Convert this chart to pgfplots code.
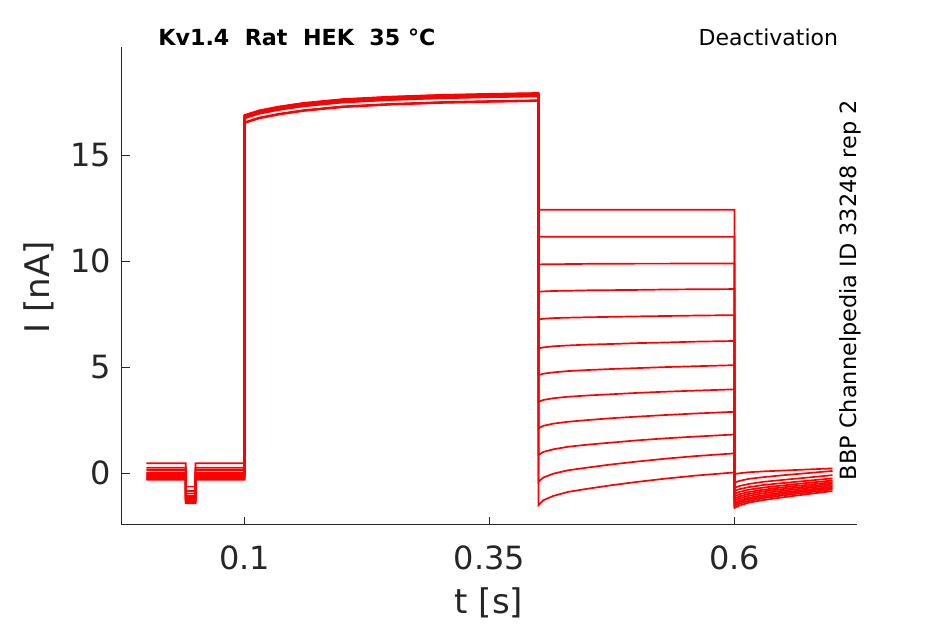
\documentclass[border=0pt]{standalone}
\usepackage{pgfplots}
\usepackage{pgfplotstable}
\pgfplotsset{compat=1.18}
\usepackage{fontspec}
\setmainfont{DejaVu Sans}
\definecolor{axgray}{HTML}{262626}
\definecolor{trace}{HTML}{FF0000}
\pgfplotstableread{
t y1 y2 y3 y4 y5 y6 y7 y8 y9 y10 y11 y12
0 0.46 0.25 0.14 0.02 -0.03 -0.08 -0.12 -0.16 -0.20 -0.24 -0.28 -0.32
0.04 0.46 0.25 0.14 0.02 -0.03 -0.08 -0.12 -0.16 -0.20 -0.24 -0.28 -0.32
0.04 -0.64 -0.85 -0.96 -1.08 -1.13 -1.18 -1.22 -1.26 -1.30 -1.34 -1.38 -1.42
0.05 -0.64 -0.85 -0.96 -1.08 -1.13 -1.18 -1.22 -1.26 -1.30 -1.34 -1.38 -1.42
0.05 0.46 0.25 0.14 0.02 -0.03 -0.08 -0.12 -0.16 -0.20 -0.24 -0.28 -0.32
0.1 0.46 0.25 0.14 0.02 -0.03 -0.08 -0.12 -0.16 -0.20 -0.24 -0.28 -0.32
0.1 16.89 16.87 16.85 16.83 16.81 16.79 16.77 16.75 16.73 16.55 16.53 16.51
0.115 17.11 17.09 17.07 17.05 17.03 17.01 16.99 16.97 16.95 16.77 16.75 16.73
0.135 17.29 17.27 17.25 17.23 17.21 17.19 17.17 17.15 17.13 16.95 16.93 16.91
0.16 17.46 17.44 17.42 17.40 17.38 17.36 17.34 17.32 17.30 17.12 17.10 17.08
0.2 17.64 17.62 17.60 17.58 17.56 17.54 17.52 17.50 17.48 17.30 17.28 17.26
0.25 17.76 17.74 17.72 17.70 17.68 17.66 17.64 17.62 17.60 17.42 17.40 17.38
0.3 17.84 17.82 17.80 17.78 17.76 17.74 17.72 17.70 17.68 17.50 17.48 17.46
0.35 17.89 17.87 17.85 17.83 17.81 17.79 17.77 17.75 17.73 17.55 17.53 17.51
0.4 17.93 17.91 17.89 17.87 17.85 17.83 17.81 17.79 17.77 17.59 17.57 17.55
0.4 12.42 11.15 9.84 8.55 7.25 5.88 4.62 3.36 2.11 0.85 -0.41 -1.51
0.405 12.42 11.15 9.85 8.57 7.28 5.93 4.69 3.45 2.23 1.00 -0.21 -1.28
0.415 12.42 11.15 9.85 8.59 7.31 5.98 4.75 3.53 2.33 1.12 -0.03 -1.08
0.43 12.42 11.15 9.86 8.60 7.33 6.02 4.81 3.60 2.42 1.24 0.13 -0.89
0.45 12.42 11.15 9.87 8.62 7.35 6.06 4.86 3.66 2.50 1.34 0.26 -0.74
0.475 12.42 11.15 9.87 8.63 7.37 6.09 4.91 3.72 2.59 1.44 0.41 -0.57
0.5 12.42 11.15 9.88 8.64 7.39 6.13 4.95 3.78 2.66 1.54 0.54 -0.42
0.53 12.42 11.15 9.88 8.66 7.41 6.16 5.00 3.84 2.74 1.64 0.68 -0.26
0.56 12.42 11.15 9.89 8.67 7.43 6.20 5.04 3.89 2.81 1.72 0.80 -0.12
0.6 12.42 11.15 9.89 8.68 7.45 6.23 5.09 3.95 2.89 1.82 0.93 0.03
0.6 -0.05 -0.45 -0.70 -0.85 -0.98 -1.10 -1.20 -1.30 -1.40 -1.48 -1.56 -1.65
0.605 -0.01 -0.37 -0.61 -0.76 -0.89 -1.00 -1.10 -1.19 -1.29 -1.36 -1.44 -1.53
0.615 0.04 -0.27 -0.51 -0.66 -0.78 -0.89 -0.98 -1.07 -1.16 -1.23 -1.31 -1.39
0.63 0.08 -0.19 -0.41 -0.56 -0.68 -0.78 -0.86 -0.95 -1.04 -1.11 -1.18 -1.27
0.65 0.12 -0.10 -0.32 -0.47 -0.58 -0.67 -0.75 -0.83 -0.91 -0.98 -1.05 -1.14
0.675 0.17 0.00 -0.21 -0.36 -0.46 -0.55 -0.63 -0.70 -0.78 -0.84 -0.91 -0.99
0.7 0.22 0.10 -0.10 -0.25 -0.35 -0.43 -0.50 -0.57 -0.64 -0.70 -0.77 -0.85
}\data
\begin{document}
\begin{tikzpicture}
\path[use as bounding box] (-61pt,-49.5pt) rectangle (411.5pt,262.5pt);
\begin{axis}[
  scale only axis, width=367.5pt, height=239pt,
  at={(0,0)}, anchor=south west,
  xmin=-0.025, xmax=0.725, ymin=-2.45, ymax=20.1,
  axis lines=left,
  axis line style={-, draw=axgray, line width=0.5pt},
  xtick={0.1,0.35,0.6}, xticklabels={0.1,0.35,0.6},
  ytick={0,5,10,15}, yticklabels={0,5,10,15},
  tick align=inside, major tick length=4pt,
  tick style={draw=axgray, line width=0.5pt},
  ticklabel style={font=\fontsize{16}{19}\selectfont, text=axgray},
  xticklabel style={yshift=-7pt},
  yticklabel style={xshift=-2pt},
]
\pgfplotsinvokeforeach{1,...,12}{
  \addplot[trace, line width=0.85pt, no markers] table[x=t, y=y#1] {\data};
}
\end{axis}
\node[anchor=base west, inner sep=0pt, font=\bfseries\fontsize{11.1}{13}\selectfont] at (18pt,239.5pt) {Kv1.4\ \ Rat\ \ HEK\ \ 35 °C};
\node[anchor=base east, inner sep=0pt, font=\fontsize{11}{13}\selectfont] at (358.2pt,239.5pt) {Deactivation};
\node[rotate=90, anchor=base, inner sep=0pt, font=\fontsize{11.2}{13}\selectfont] at (367.3pt,117.5pt) {BBP Channelpedia ID 33248 rep 2};
\node[anchor=center, font=\fontsize{17}{20}\selectfont, text=axgray] at (183.5pt,-39pt) {t [s]};
\node[rotate=90, anchor=center, font=\fontsize{17}{20}\selectfont, text=axgray] at (-41.5pt,119pt) {I [nA]};
\end{tikzpicture}
\end{document}
